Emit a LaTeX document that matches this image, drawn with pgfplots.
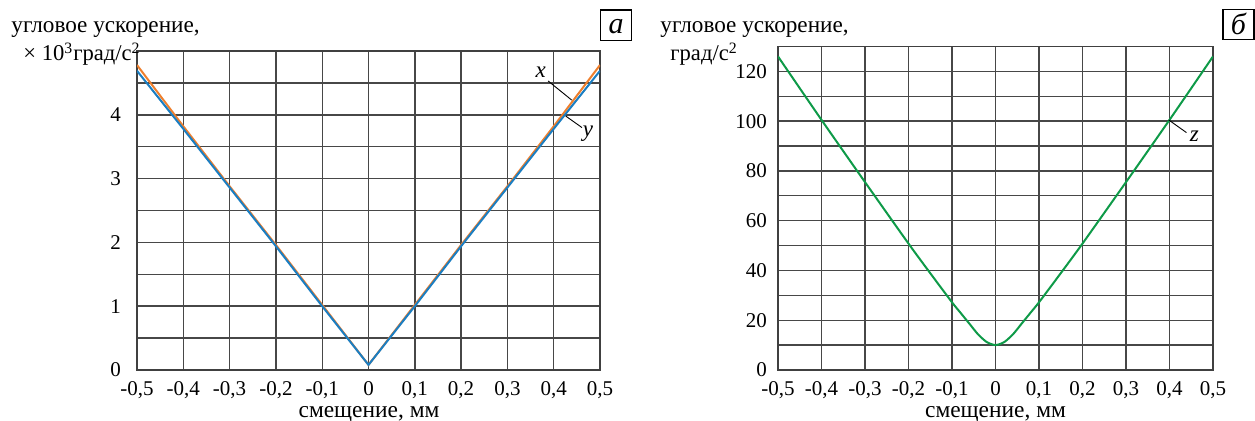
\documentclass[border=0pt]{standalone}
\usepackage{fontspec}
\setmainfont{Liberation Serif}
\usepackage{pgfplots}
\pgfplotsset{compat=1.18}
\definecolor{corange}{HTML}{EE7F2D}
\definecolor{cblue}{HTML}{1B7EC2}
\definecolor{cgreen}{HTML}{0E9A48}
\pgfplotsset{
  myax/.style={
    scale only axis, anchor=south west,
    axis line style={black!75, line width=0.7pt},
    grid=both,
    major grid style={black!72, line width=0.7pt},
    minor grid style={black!72, line width=0.7pt},
    tick style={draw=none},
    xmin=-0.5, xmax=0.5,
    xtick={-0.5,-0.4,-0.3,-0.2,-0.1,0,0.1,0.2,0.3,0.4,0.5},
    xticklabels={{-0,5},{-0,4},{-0,3},{-0,2},{-0,1},{0},{0,1},{0,2},{0,3},{0,4},{0,5}},
    ticklabel style={font=\fontsize{10.5}{12}\selectfont},
    xticklabel style={yshift=-2pt},
  }
}
\begin{document}
\begin{tikzpicture}[x=1pt,y=1pt]
\path[use as bounding box] (0,0) rectangle (627.5,210.5);
% left panel
\begin{axis}[myax, at={(68.5pt,25.5pt)}, width=231.5pt, height=159.5pt,
  ymin=0, ymax=5,
  ytick={0,1,2,3,4}, yticklabels={0,1,2,3,4},
  minor ytick={0.5,1.5,2.5,3.5,4.5},
  yticklabel style={xshift=-4.5pt}]
\addplot[corange, line width=1pt] coordinates {
(-0.5,4.78)(-0.4,3.82)(-0.3,2.88)(-0.2,1.96)(-0.1,1.02)(0,0.08)
(0.1,1.02)(0.2,1.96)(0.3,2.88)(0.4,3.82)(0.5,4.78)};
\addplot[cblue, line width=1pt] coordinates {
(-0.5,4.69)(-0.4,3.78)(-0.3,2.86)(-0.2,1.94)(-0.1,1.00)(0,0.08)
(0.1,1.00)(0.2,1.94)(0.3,2.86)(0.4,3.78)(0.5,4.69)};
\draw[black, line width=0.45pt] (axis cs:0.388,4.53) -- (axis cs:0.439,4.23);
\draw[black, line width=0.45pt] (axis cs:0.426,3.98) -- (axis cs:0.461,3.80);
\node[font=\fontsize{11.5}{13}\selectfont\itshape, inner sep=0pt] at (axis cs:0.372,4.66) {x};
\node[font=\fontsize{11.5}{13}\selectfont\itshape, inner sep=0pt] at (axis cs:0.474,3.71) {y};
\end{axis}
% right panel
\begin{axis}[myax, at={(389pt,25.5pt)}, width=217.5pt, height=161.75pt,
  ymin=0, ymax=130,
  ytick={0,20,40,60,80,100,120}, yticklabels={0,20,40,60,80,100,120},
  minor ytick={10,30,50,70,90,110,130},
  yticklabel style={xshift=-2pt}]
\addplot[cgreen, line width=1pt, smooth, tension=0.4] coordinates {
(-0.5,126)(-0.4,100.5)(-0.3,75.5)(-0.2,50.8)(-0.15,38.9)(-0.1,27.2)(-0.08,22.9)(-0.06,18.6)(-0.04,14.3)(-0.02,11.2)(0,10)
(0.02,11.2)(0.04,14.3)(0.06,18.6)(0.08,22.9)(0.1,27.2)(0.15,38.9)(0.2,50.8)(0.3,75.5)(0.4,100.5)(0.5,126)};
\draw[black, line width=0.45pt] (axis cs:0.398,100.5) -- (axis cs:0.439,95.4);
\node[font=\fontsize{11.5}{13}\selectfont\itshape, inner sep=0pt] at (axis cs:0.457,93.8) {z};
\end{axis}
% y labels
\node[anchor=base west, inner sep=0pt, font=\fontsize{11.6}{13}\selectfont] at (5.5,194) {угловое ускорение,};
\node[anchor=base west, inner sep=0pt, font=\fontsize{11.3}{13}\selectfont] at (11.5,180) {× 10\textsuperscript{3}град/с\textsuperscript{2}};
\node[anchor=base west, inner sep=0pt, font=\fontsize{11.6}{13}\selectfont] at (330,194) {угловое ускорение,};
\node[anchor=base west, inner sep=0pt, font=\fontsize{11.3}{13}\selectfont] at (335,180) {град/с\textsuperscript{2}};
% x labels
\node[anchor=base, inner sep=0pt, font=\fontsize{11.7}{13}\selectfont] at (184.5,1.5) {смещение, мм};
\node[anchor=base, inner sep=0pt, font=\fontsize{11.7}{13}\selectfont] at (497.75,1.5) {смещение, мм};
% panel letters
\draw[line width=0.6pt] (300.35,190.25) rectangle (315.85,205.5);
\node[font=\fontsize{15}{16}\selectfont\itshape, inner sep=0pt] at (308.1,197.2) {а};
\draw[line width=0.6pt] (611.5,190.85) rectangle (627,205.85);
\node[font=\fontsize{15}{16}\selectfont\itshape, inner sep=0pt] at (619.25,198.6) {б};
\end{tikzpicture}
\end{document}
